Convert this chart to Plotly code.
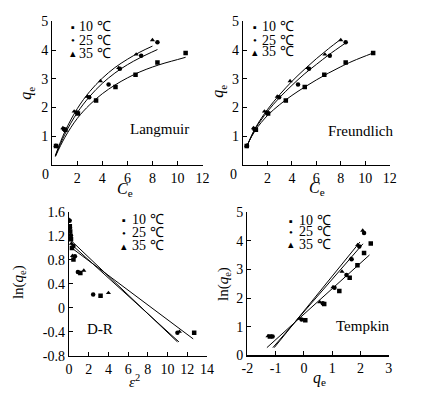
import numpy as np
import plotly.graph_objects as go

# ---------------- data ----------------
temps = ["10 ℃", "25 ℃", "35 ℃"]
symbols = ["square", "circle", "triangle-up"]

Ce10 = [0.3, 1.05, 2.05, 3.5, 5.05, 6.65, 8.4, 10.65]
qe10 = [0.66, 1.22, 1.79, 2.24, 2.71, 3.14, 3.57, 3.9]
Ce25 = [0.33, 0.92, 1.95, 2.95, 4.5, 5.4, 7.1, 8.4]
qe25 = [0.66, 1.25, 1.82, 2.36, 2.8, 3.35, 3.8, 4.27]
Ce35 = [0.28, 0.85, 1.75, 2.8, 3.85, 5.3, 6.7, 8.0]
qe35 = [0.67, 1.28, 1.86, 2.38, 2.92, 3.38, 3.85, 4.35]

# Langmuir fitted curves
L_C10 = [0.25, 1, 2, 3, 4, 5, 6, 7, 8, 9, 10, 10.65]
L_q10 = [0.29, 0.95, 1.62, 2.1, 2.48, 2.78, 3.03, 3.24, 3.41, 3.55, 3.67, 3.75]
L_C25 = [0.25, 1, 2, 3, 4, 5, 6, 7, 8.4]
L_q25 = [0.30, 1.06, 1.82, 2.39, 2.84, 3.2, 3.49, 3.73, 4.02]
L_C35 = [0.25, 1, 2, 3, 4, 5, 6, 7, 8.0]
L_q35 = [0.33, 1.15, 1.96, 2.56, 3.02, 3.39, 3.68, 3.93, 4.14]

# Freundlich fitted curves
F_C10 = [0.3, 1, 2, 3, 4, 5, 6, 7, 8, 9, 10.65]
F_q10 = [0.66, 1.2, 1.72, 2.1, 2.42, 2.7, 2.96, 3.2, 3.42, 3.62, 3.9]
F_C25 = [0.3, 1, 2, 3, 4, 5, 6, 7, 8.4]
F_q25 = [0.63, 1.25, 1.86, 2.35, 2.77, 3.16, 3.50, 3.83, 4.25]
F_C35 = [0.3, 1, 2, 3, 4, 5, 6, 7, 8.0]
F_q35 = [0.63, 1.28, 1.93, 2.45, 2.91, 3.32, 3.70, 4.05, 4.38]

# D-R: epsilon^2 per point
eps10 = [12.7, 3.2, 1.15, 0.45, 0.3, 0.2, 0.12, 0.08]
eps25 = [11.0, 2.45, 0.9, 0.6, 0.45, 0.2, 0.1, 0.06]
eps35 = [11.2, 4.0, 1.5, 0.35, 0.25, 0.15, 0.08, 0.05]
DR_x10 = [0.1, 12.6]
DR_y10 = [1.02, -0.52]
DR_x25 = [0.1, 11.15]
DR_y25 = [1.08, -0.57]
DR_x35 = [0.1, 11.0]
DR_y35 = [1.14, -0.57]

# Tempkin fitted lines
T_x10 = [-1.31, 2.32]
T_y10 = [0.27, 3.5]
T_x25 = [-1.1, 2.09]
T_y25 = [0.27, 3.89]
T_x35 = [-1.05, 1.98]
T_y35 = [0.27, 3.95]

Ce = [Ce10, Ce25, Ce35]
qe = [qe10, qe25, qe35]
eps = [eps10, eps25, eps35]
Lc = [(L_C10, L_q10), (L_C25, L_q25), (L_C35, L_q35)]
Fc = [(F_C10, F_q10), (F_C25, F_q25), (F_C35, F_q35)]
DRl = [(DR_x10, DR_y10), (DR_x25, DR_y25), (DR_x35, DR_y35)]
Tl = [(T_x10, T_y10), (T_x25, T_y25), (T_x35, T_y35)]

# ---------------- figure ----------------
W, H = 427, 398
FONT = "Liberation Serif, Times New Roman, serif"

def px(x):
    return x / W

def py(y):
    return 1 - y / H

fig = go.Figure()

def add_points(xs, ys, sym, xa, ya):
    fig.add_trace(go.Scatter(x=xs, y=ys, mode="markers",
                             marker=dict(symbol=sym, size=4.5, color="black"),
                             xaxis=xa, yaxis=ya, showlegend=False, hoverinfo="skip"))

def add_line(xs, ys, xa, ya, spline=False):
    fig.add_trace(go.Scatter(x=xs, y=ys, mode="lines",
                             line=dict(color="black", width=1,
                                       shape="spline" if spline else "linear"),
                             xaxis=xa, yaxis=ya, showlegend=False, hoverinfo="skip"))

for i in range(3):
    add_line(Lc[i][0], Lc[i][1], "x", "y", spline=True)
    add_points(Ce[i], qe[i], symbols[i], "x", "y")
    add_line(Fc[i][0], Fc[i][1], "x2", "y2", spline=True)
    add_points(Ce[i], qe[i], symbols[i], "x2", "y2")
    add_line(DRl[i][0], DRl[i][1], "x3", "y3")
    add_points(eps[i], list(np.log(qe[i])), symbols[i], "x3", "y3")
    add_line(Tl[i][0], Tl[i][1], "x4", "y4")
    add_points(list(np.log(Ce[i])), qe[i], symbols[i], "x4", "y4")

axcommon = dict(showline=True, linecolor="black", linewidth=1.3, ticks="inside",
                ticklen=4, tickwidth=1, tickcolor="black", showgrid=False,
                zeroline=False, tickfont=dict(family=FONT, size=14, color="black"),
                fixedrange=True)

def ticks(vals, labels):
    return dict(tickmode="array", tickvals=vals, ticktext=labels)

x12 = [0, 2, 4, 6, 8, 10, 12]
x12t = ["", "2", "4", "6", "8", "10", "12"]
y5 = [0, 1, 2, 3, 4, 5]
y5t = ["", "1", "2", "3", "4", "5"]

fig.update_layout(
    width=W, height=H, margin=dict(l=0, r=0, t=0, b=0),
    paper_bgcolor="white", plot_bgcolor="white", showlegend=False,
    font=dict(family=FONT, color="black"),
    xaxis=dict(domain=[px(47.7), px(202.7)], range=[0, 12], anchor="y", **ticks(x12, x12t), **axcommon),
    yaxis=dict(domain=[py(164), py(15)], range=[0, 5], anchor="x", **ticks(y5, y5t), **axcommon),
    xaxis2=dict(domain=[px(244.5), px(395.7)], range=[0, 12], anchor="y2", **ticks(x12, x12t), **axcommon),
    yaxis2=dict(domain=[py(164), py(15)], range=[0, 5], anchor="x2", **ticks(y5, y5t), **axcommon),
    xaxis3=dict(domain=[px(65), px(207.3)], range=[0, 14], anchor="y3",
                **ticks([0, 2, 4, 6, 8, 10, 12, 14], ["0", "2", "4", "6", "8", "10", "12", "14"]), **axcommon),
    yaxis3=dict(domain=[py(362.3), py(213)], range=[-0.8, 1.6], anchor="x3",
                **ticks([-0.8, -0.4, 0, 0.4, 0.8, 1.2, 1.6], ["-0.8", "-0.4", "0", "0.4", "0.8", "1.2", "1.6"]), **axcommon),
    xaxis4=dict(domain=[px(249), px(394.7)], range=[-2, 3], anchor="y4",
                **ticks([-2, -1, 0, 1, 2, 3], ["-2", "-1", "0", "1", "2", "3"]), **axcommon),
    yaxis4=dict(domain=[py(362), py(213)], range=[0, 5], anchor="x4",
                **ticks(y5, ["0", "1", "2", "3", "4", "5"]), **axcommon),
)

ann = []

def text(x, y, s, size=13, angle=0, xanchor="center"):
    ann.append(dict(x=px(x), y=py(y), xref="paper", yref="paper", text=s,
                    showarrow=False, textangle=angle, xanchor=xanchor, yanchor="middle",
                    font=dict(family=FONT, size=size, color="black")))

# origin labels
text(40.7, 174, "0", size=14)
text(235, 174, "0", size=14)

# axis titles
text(21.7, 90, "<i>q</i><sub>e</sub>", size=16, angle=-90)
text(123, 190, "<i>C</i><sub>e</sub>", size=16)
text(219.7, 88, "<i>q</i><sub>e</sub>", size=16, angle=-90)
text(321, 189, "<i>C</i><sub>e</sub>", size=16)
text(13.3, 286, "ln(<i>q</i><sub>e</sub>)", size=15, angle=-90)
text(133, 389, "<i>ε</i><sup>2</sup>", size=15)
text(224.7, 288, "ln(<i>q</i><sub>e</sub>)", size=15, angle=-90)
text(323, 386, "<i>q</i><sub>e</sub>", size=16)

# panel names
text(158, 127, "Langmuir", size=15)
text(365.5, 129, "Freundlich", size=15)
text(97, 335, "D-R", size=15)
text(368, 331, "Tempkin", size=15)

# legends
glyphs = ["▪", "•", "▴"]
legpos = [
    (69, 73.3, [20.7, 34.3, 48.3]),
    (257.3, 262.3, [20.7, 34.3, 46.7]),
    (122, 128.3, [221.3, 234.5, 248]),
    (294, 300.3, [222, 233.5, 246.3]),
]
for mx, tx, ys in legpos:
    for g, t, yy in zip(glyphs, temps, ys):
        text(mx, yy, g, size=11)
        text(tx, yy, t, size=14, xanchor="left")

fig.update_layout(annotations=ann)
fig.write_html("out.html",
               config={"displayModeBar": False, "staticPlot": True},
               post_script="document.body.style.margin='0px';document.body.style.overflow='hidden';")
